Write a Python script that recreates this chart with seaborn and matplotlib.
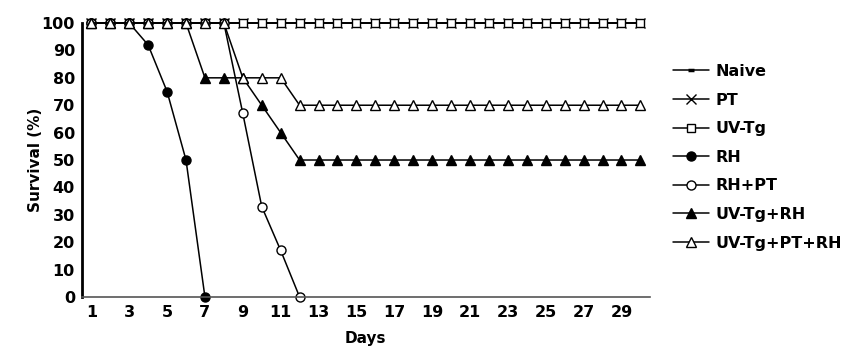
import pandas as pd
import seaborn as sns
import matplotlib.pyplot as plt

days = list(range(1, 31))

naive = [100] * 30
pt = [100] * 30
uv_tg = [100] * 30
rh = [100, 100, 100, 92, 75, 50, 0]
rh_pt = [100, 100, 100, 100, 100, 100, 100, 100, 67, 33, 17, 0]
uv_tg_rh = [100, 100, 100, 100, 100, 100, 80, 80, 80, 70, 60] + [50] * 19
uv_tg_pt_rh = [100, 100, 100, 100, 100, 100, 100, 100, 80, 80, 80] + [70] * 19

groups = ["Naive", "PT", "UV-Tg", "RH", "RH+PT", "UV-Tg+RH", "UV-Tg+PT+RH"]
values = [naive, pt, uv_tg, rh, rh_pt, uv_tg_rh, uv_tg_pt_rh]

# marker, face colour, size
styles = {
    "Naive": dict(marker="_", markerfacecolor="black", markersize=5, markeredgewidth=2.5),
    "PT": dict(marker="x", markerfacecolor="black", markersize=6.5, markeredgewidth=1.0),
    "UV-Tg": dict(marker="s", markerfacecolor="white", markersize=6, markeredgewidth=1.0),
    "RH": dict(marker="o", markerfacecolor="black", markersize=6.5, markeredgewidth=1.0),
    "RH+PT": dict(marker="o", markerfacecolor="white", markersize=6.5, markeredgewidth=1.0),
    "UV-Tg+RH": dict(marker="^", markerfacecolor="black", markersize=7, markeredgewidth=1.0),
    "UV-Tg+PT+RH": dict(marker="^", markerfacecolor="white", markersize=7, markeredgewidth=1.0),
}

sns.set_style("white")
plt.rcParams["font.family"] = ["DejaVu Sans"]
plt.rcParams["font.weight"] = "bold"
plt.rcParams["text.color"] = "black"
plt.rcParams["axes.labelcolor"] = "black"
plt.rcParams["xtick.color"] = "black"
plt.rcParams["ytick.color"] = "black"

fig, ax = plt.subplots(figsize=(8.44, 3.49), dpi=100)
fig.subplots_adjust(left=0.097, right=0.770, bottom=0.149, top=0.934)

for name, vals in zip(groups, values):
    df = pd.DataFrame({"Days": days[:len(vals)], "Survival": vals})
    sns.lineplot(data=df, x="Days", y="Survival", ax=ax, color="black",
                 linewidth=1.1, markeredgecolor="black", label=name,
                 clip_on=False, **styles[name])

ax.set_xlim(0.5, 30.5)
ax.set_ylim(0, 100)
ax.set_yticks(range(0, 101, 10))
ax.set_xticks(range(1, 30, 2))
ax.set_xticks([d + 0.5 for d in range(0, 31)], minor=True)
ax.tick_params(axis="x", which="major", length=0, labelsize=11.5, pad=6)
ax.tick_params(axis="x", which="minor", direction="in", length=5, width=0.9, color="#444444")
ax.tick_params(axis="y", which="major", direction="out", length=3, width=1.0, labelsize=11.5, pad=2)
for lab in ax.get_xticklabels() + ax.get_yticklabels():
    lab.set_fontweight("bold")

ax.spines["top"].set_visible(False)
ax.spines["right"].set_visible(False)
ax.spines["left"].set_linewidth(2.0)
ax.spines["left"].set_color("black")
ax.spines["bottom"].set_linewidth(1.2)
ax.spines["bottom"].set_color("#555555")

ax.set_xlabel("Days", fontsize=11, fontweight="bold", labelpad=8)
ax.set_ylabel("Survival (%)", fontsize=11, fontweight="bold", labelpad=-1)

ax.legend(loc="center left", bbox_to_anchor=(1.015, 0.51), frameon=False,
          handlelength=2.25, handletextpad=0.4, labelspacing=0.85,
          prop={"weight": "bold", "size": 11.5})

plt.savefig("out.png", dpi=100)
